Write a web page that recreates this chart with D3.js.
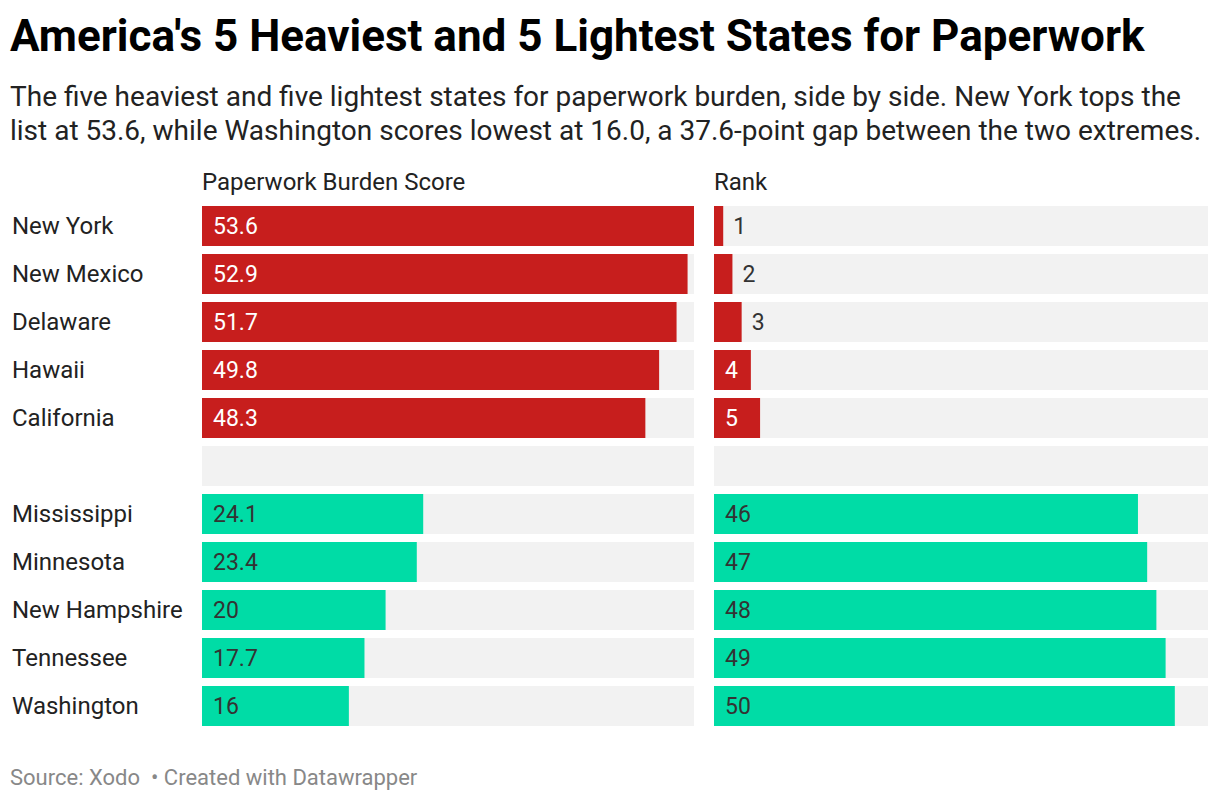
<!DOCTYPE html>
<html>
<head>
<meta charset="utf-8">
<script src="https://cdn.jsdelivr.net/npm/d3@7"></script>
<style>
  body { margin: 0; background: #fff; font-family: Roboto, "Noto Sans", sans-serif; }
  svg text { font-family: Roboto, "Noto Sans", sans-serif; }
</style>
</head>
<body>
<div id="chart"></div>
<script>
// Data (blank string = spacer row)
const states = ["New York", "New Mexico", "Delaware", "Hawaii", "California", "",
                "Mississippi", "Minnesota", "New Hampshire", "Tennessee", "Washington"];
const scores = [53.6, 52.9, 51.7, 49.8, 48.3, null, 24.1, 23.4, 20, 17.7, 16];
const ranks  = [1, 2, 3, 4, 5, null, 46, 47, 48, 49, 50];
const groups = ["heavy", "heavy", "heavy", "heavy", "heavy", null,
                "light", "light", "light", "light", "light"];
const columnTitles = ["Paperwork Burden Score", "Rank"];

const colors = { heavy: "#c71e1d", light: "#00dca6" };

const W = 1220, H = 802;
const svg = d3.select("#chart").append("svg")
  .attr("width", W)
  .attr("height", H);

// Title + subtitle
svg.append("text")
  .attr("x", 10).attr("y", 51)
  .attr("font-size", 44).attr("font-weight", 700)
  .attr("fill", "#000")
  .text("America's 5 Heaviest and 5 Lightest States for Paperwork");

const subLines = [
  "The five heaviest and five lightest states for paperwork burden, side by side. New York tops the",
  "list at 53.6, while Washington scores lowest at 16.0, a 37.6-point gap between the two extremes."
];
svg.selectAll(".sub")
  .data(subLines)
  .enter().append("text")
    .attr("class", "sub")
    .attr("x", 10)
    .attr("y", (d, i) => 106 + i * 34)
    .attr("font-size", 28)
    .attr("fill", "#222")
    .text(d => d);

// Row layout: 40px bars, 48px step
const y = d3.scaleBand()
  .domain(d3.range(states.length))
  .range([206, 726])
  .paddingInner(8 / 48)
  .paddingOuter(0);
const bh = y.bandwidth();

const maxVal = 53.6;
const xScore = d3.scaleLinear().domain([0, maxVal]).range([202, 694]);
const xRank  = d3.scaleLinear().domain([0, maxVal]).range([714, 1208]);

// Column headers
svg.append("text").attr("x", 202).attr("y", 190)
  .attr("font-size", 24).attr("fill", "#222").text(columnTitles[0]);
svg.append("text").attr("x", 714).attr("y", 190)
  .attr("font-size", 24).attr("fill", "#222").text(columnTitles[1]);

const rows = svg.selectAll(".row")
  .data(states.map((s, i) => ({ name: s, score: scores[i], rank: ranks[i], group: groups[i], i })))
  .enter().append("g")
    .attr("class", "row")
    .attr("transform", d => `translate(0,${y(d.i)})`);

// Row labels
rows.append("text")
  .attr("x", 12)
  .attr("y", bh / 2)
  .attr("dy", "0.35em")
  .attr("font-size", 24)
  .attr("fill", "#222")
  .text(d => d.name);

function drawColumn(x, key) {
  rows.append("rect")
    .attr("x", x.range()[0])
    .attr("width", x.range()[1] - x.range()[0])
    .attr("height", bh)
    .attr("fill", "#f2f2f2");

  rows.filter(d => d[key] != null).append("rect")
    .attr("x", x(0))
    .attr("width", d => x(d[key]) - x(0))
    .attr("height", bh)
    .attr("fill", d => colors[d.group]);

  rows.filter(d => d[key] != null).each(function(d) {
    const g = d3.select(this);
    const t = g.append("text")
      .attr("y", bh / 2)
      .attr("dy", "0.35em")
      .attr("font-size", 23)
      .text(d[key]);
    const tw = t.node().getComputedTextLength();
    const barW = x(d[key]) - x(0);
    if (barW >= tw + 20) {
      t.attr("x", x(0) + 11)
       .attr("fill", d.group === "heavy" ? "#fff" : "#333");
    } else {
      t.attr("x", x(d[key]) + 10).attr("fill", "#333");
    }
  });
}

drawColumn(xScore, "score");
drawColumn(xRank, "rank");

// Footer
svg.append("text")
  .attr("x", 10).attr("y", 785)
  .attr("font-size", 22)
  .attr("fill", "#888")
  .attr("xml:space", "preserve")
  .text("Source: Xodo  \u2022 Created with Datawrapper");
</script>
</body>
</html>
